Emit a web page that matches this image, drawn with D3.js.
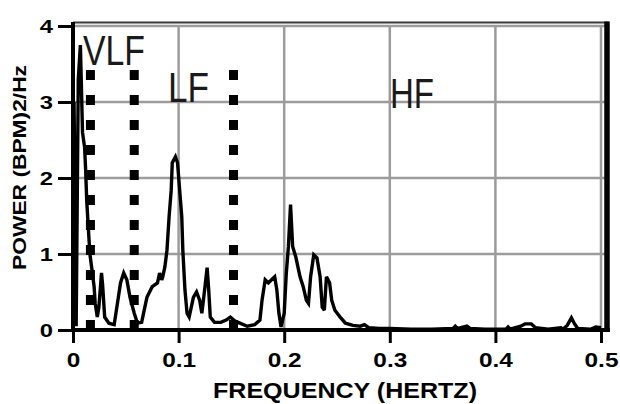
<!DOCTYPE html>
<html>
<head>
<meta charset="utf-8">
<script src="https://cdn.jsdelivr.net/npm/d3@7"></script>
<style>
  html, body { margin: 0; padding: 0; background: #fff; }
  svg { display: block; }
</style>
</head>
<body>
<svg id="chart" width="620" height="404"></svg>
<script>
// Heart-rate variability power spectrum
const freq = [
  0, 0.001, 0.003, 0.005, 0.007, 0.009, 0.011, 0.012, 0.013, 0.015,
  0.016, 0.018, 0.020, 0.021, 0.023, 0.0245, 0.027, 0.028, 0.030, 0.034,
  0.039, 0.045, 0.048, 0.051, 0.054, 0.058, 0.061, 0.065, 0.070, 0.075,
  0.080, 0.082, 0.084, 0.085, 0.087, 0.089, 0.091, 0.093, 0.094, 0.097,
  0.099, 0.101, 0.103, 0.104, 0.106, 0.108, 0.110, 0.114, 0.117, 0.120,
  0.122, 0.125, 0.127, 0.1285, 0.130, 0.134, 0.140, 0.145, 0.149, 0.153,
  0.158, 0.165, 0.172, 0.177, 0.179, 0.182, 0.185, 0.188, 0.191, 0.193,
  0.195, 0.197, 0.200, 0.202, 0.204, 0.206, 0.208, 0.211, 0.215, 0.218,
  0.221, 0.223, 0.225, 0.228, 0.231, 0.234, 0.236, 0.238, 0.240, 0.243,
  0.245, 0.248, 0.253, 0.258, 0.265, 0.272, 0.276, 0.280, 0.29, 0.30,
  0.32, 0.34, 0.36, 0.362, 0.364, 0.370, 0.373, 0.376, 0.39, 0.41,
  0.412, 0.414, 0.424, 0.428, 0.434, 0.438, 0.45, 0.462, 0.464, 0.468,
  0.472, 0.475, 0.478, 0.49, 0.495, 0.5
];
const power = [
  0, 3.0, 0.05, 3.3, 3.75, 2.6, 2.4, 2.1, 1.7, 1.23,
  1.0, 0.79, 0.57, 0.35, 0.17, 0.3, 0.75, 0.6, 0.17, 0.09,
  0.07, 0.62, 0.75, 0.66, 0.43, 0.22, 0.09, 0.1, 0.43, 0.57,
  0.62, 0.75, 0.66, 0.7, 0.83, 1.05, 1.49, 1.84, 2.2, 2.28,
  2.2, 1.84, 1.49, 1.05, 0.53, 0.22, 0.17, 0.43, 0.5, 0.39,
  0.22, 0.57, 0.82, 0.53, 0.17, 0.1, 0.1, 0.13, 0.17, 0.12,
  0.09, 0.05, 0.07, 0.13, 0.39, 0.66, 0.62, 0.66, 0.7, 0.53,
  0.22, 0.04, 0.22, 0.75, 1.1, 1.65, 1.1, 0.96, 0.7, 0.57,
  0.39, 0.35, 0.7, 0.99, 0.95, 0.7, 0.3, 0.26, 0.7, 0.62,
  0.39, 0.26, 0.17, 0.09, 0.06, 0.05, 0.07, 0.03, 0.02, 0.02,
  0.01, 0.01, 0.02, 0.05, 0.02, 0.04, 0.05, 0.02, 0.01, 0.01,
  0.04, 0.01, 0.05, 0.08, 0.08, 0.03, 0.01, 0.03, 0.01, 0.06,
  0.16, 0.08, 0.02, 0.01, 0.04, 0.03
];

// Band boundaries (Hz) and band names
const bandEdges = [0.0165, 0.058, 0.152];
const bandEdgeTop = 3.42;
const bandNames = ["VLF", "LF", "HF"];

// Axis ticks
const xTicks = [0, 0.1, 0.2, 0.3, 0.4, 0.5];
const xTickLabels = ["0", "0.1", "0.2", "0.3", "0.4", "0.5"];
const yTicks = [0, 1, 2, 3, 4];
const yTickLabels = ["0", "1", "2", "3", "4"];

const xTitle = "FREQUENCY (HERTZ)";
const yTitle = "POWER (BPM)2/Hz";

const svg = d3.select("#chart");
const FONT = "'Liberation Sans', Arial, Helvetica, sans-serif";

const x = d3.scaleLinear().domain([0, 0.5]).range([73, 601]);
const y = d3.scaleLinear().domain([0, 4]).range([330, 26]);

// grid
const grid = svg.append("g").attr("stroke", "#9c9c9c").attr("stroke-width", 2.5);
grid.selectAll("line.gx").data(xTicks.slice(1)).join("line")
  .attr("x1", d => x(d)).attr("x2", d => x(d))
  .attr("y1", y(4)).attr("y2", y(0));
grid.selectAll("line.gy").data(yTicks.slice(1)).join("line")
  .attr("x1", x(0)).attr("x2", 606)
  .attr("y1", d => y(d)).attr("y2", d => y(d));

// frame: dark top edge and heavy right edge
svg.append("line").attr("x1", 73).attr("x2", 609).attr("y1", 22.5).attr("y2", 22.5)
  .attr("stroke", "#3a3a3a").attr("stroke-width", 2.2);
svg.append("line").attr("x1", 607).attr("x2", 607).attr("y1", 21.5).attr("y2", 332)
  .attr("stroke", "#000").attr("stroke-width", 5.5);

// spectrum curve
const pts = freq.map((f, i) => [f, power[i]]);
const line = d3.line().x(d => x(d[0])).y(d => y(d[1]));
svg.append("path").datum(pts)
  .attr("d", line)
  .attr("fill", "none")
  .attr("stroke", "#000")
  .attr("stroke-width", 3.4)
  .attr("stroke-linejoin", "miter")
  .attr("stroke-miterlimit", 3);

// dotted band boundaries
svg.append("g").selectAll("line").data(bandEdges).join("line")
  .attr("x1", d => x(d)).attr("x2", d => x(d))
  .attr("y1", y(bandEdgeTop)).attr("y2", y(0))
  .attr("stroke", "#000").attr("stroke-width", 9)
  .attr("stroke-dasharray", "10 15");

// axes lines
svg.append("line").attr("x1", 73).attr("x2", 73).attr("y1", 22).attr("y2", 332)
  .attr("stroke", "#000").attr("stroke-width", 4);
svg.append("line").attr("x1", 71).attr("x2", 610).attr("y1", 330).attr("y2", 330)
  .attr("stroke", "#000").attr("stroke-width", 4);

// x axis ticks
const gx = svg.append("g").attr("transform", "translate(0,330)")
  .call(d3.axisBottom(x).tickValues(xTicks).tickSize(13)
    .tickFormat((d, i) => xTickLabels[i]));
gx.select(".domain").remove();
gx.selectAll(".tick line").attr("stroke", "#000").attr("stroke-width", 3);
gx.selectAll(".tick text")
  .attr("y", 23).attr("dy", "0.71em")
  .attr("transform", "scale(1.25,1)")
  .attr("fill", "#000")
  .style("font-family", FONT).style("font-size", "19.5px").style("font-weight", "bold");

// y axis ticks
const gy = svg.append("g").attr("transform", "translate(73,0)")
  .call(d3.axisLeft(y).tickValues(yTicks).tickSize(15)
    .tickFormat((d, i) => yTickLabels[i]));
gy.select(".domain").remove();
gy.selectAll(".tick line").attr("stroke", "#000").attr("stroke-width", 3);
gy.selectAll(".tick text")
  .attr("x", -16).attr("dy", "0.36em")
  .attr("transform", "scale(1.25,1)")
  .attr("fill", "#000")
  .style("font-family", FONT).style("font-size", "19px").style("font-weight", "bold");

// band labels
const bandLabel = [
  { name: bandNames[0], px: 83, py: 65, w: 62 },
  { name: bandNames[1], px: 168, py: 101.5, w: 41 },
  { name: bandNames[2], px: 390, py: 108, w: 44 }
];
svg.append("g").selectAll("text").data(bandLabel).join("text")
  .attr("x", d => d.px).attr("y", d => d.py)
  .attr("textLength", d => d.w).attr("lengthAdjust", "spacingAndGlyphs")
  .attr("fill", "#1a1a1a")
  .style("font-family", FONT).style("font-size", "42px")
  .text(d => d.name);

// axis titles
svg.append("text")
  .attr("x", 345).attr("y", 398)
  .attr("text-anchor", "middle")
  .attr("textLength", 264).attr("lengthAdjust", "spacingAndGlyphs")
  .attr("fill", "#000")
  .style("font-family", FONT).style("font-size", "21.5px").style("font-weight", "bold")
  .text(xTitle);

svg.append("text")
  .attr("transform", "translate(26,167.5) rotate(-90)")
  .attr("text-anchor", "middle")
  .attr("textLength", 205).attr("lengthAdjust", "spacingAndGlyphs")
  .attr("fill", "#000")
  .style("font-family", FONT).style("font-size", "18px").style("font-weight", "bold")
  .text(yTitle);
</script>
</body>
</html>
